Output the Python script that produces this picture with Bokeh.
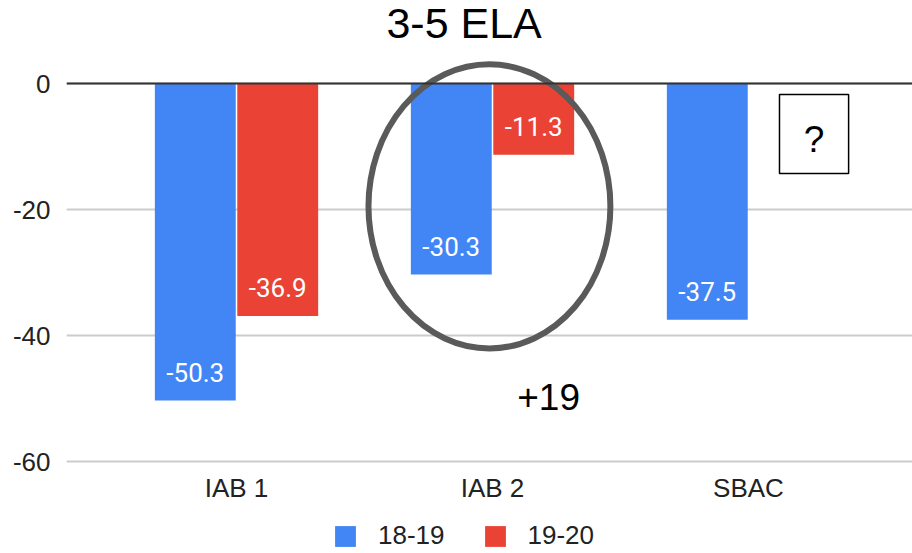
import math
from bokeh.plotting import figure
from bokeh.layouts import column
from bokeh.models import (ColumnDataSource, Range1d, FixedTicker, Span, Label,
                          BoxAnnotation, Legend, LegendItem, PrintfTickFormatter)
from bokeh.core.properties import value
from bokeh.embed import file_html
from bokeh.resources import INLINE

# ---------------- data ----------------
title_text = "3-5 ELA"
categories = ["IAB 1", "IAB 2", "SBAC"]
series_names = ["18-19", "19-20"]
values_1819 = [-50.3, -30.3, -37.5]
values_1920 = [-36.9, -11.3, float("nan")]
y_ticks = [-60, -40, -20, 0]
change_note = "+19"
unknown_note = "?"

# ---------------- style ----------------
BLUE = "#4285F4"
RED = "#EA4335"
FONT = "Liberation Sans"
LABEL_FONT = "Roboto"
COLORS = [BLUE, RED]

W = 912
H_MAIN, H_LEG = 518, 35
LEFT, BOTTOM = 66, H_MAIN - 464
X_START = -0.6641
BAR_W = 0.316
OFFSET = 0.161

p = figure(width=W, height=H_MAIN, output_backend="svg", toolbar_location=None,
           x_range=Range1d(X_START, X_START + (W - LEFT) / 256.0),
           y_range=Range1d(-60.476, 13.175),
           min_border_left=LEFT, min_border_right=0, min_border_top=0,
           min_border_bottom=BOTTOM, outline_line_color=None,
           background_fill_color="white", border_fill_color="white")

xs = list(range(len(categories)))
series = [values_1819, values_1920]
offsets = [-OFFSET, OFFSET]
for vals, off, col in zip(series, offsets, COLORS):
    src = ColumnDataSource(dict(x=[i + off for i in xs], top=vals))
    p.vbar(x="x", top="top", bottom=0, width=BAR_W, source=src,
           fill_color=col, line_color=None)
    lx, ly, lt = [], [], []
    for i, v in zip(xs, vals):
        if not math.isnan(v):
            lx.append(i + off)
            ly.append(v)
            lt.append(f"{v:.1f}")
    lsrc = ColumnDataSource(dict(x=lx, y=ly, t=lt))
    p.text(x="x", y="y", text="t", source=lsrc, text_color="white",
           text_font=value(LABEL_FONT), text_font_size="26px",
           text_align="center", text_baseline="middle", y_offset=-28)

# zero baseline
p.add_layout(Span(location=0, dimension="width", line_color="#333333", line_width=2))

# annotations
p.ellipse(x=[0.988], y=[-19.5], width=[0.945], height=[45.1],
          fill_color=None, line_color="#5a5a5a", line_width=6)
p.add_layout(Label(x=1.219, y=-49.76, text=change_note, text_align="center",
                   text_baseline="middle", text_font=FONT,
                   text_font_size="37px", text_color="black"))
p.add_layout(BoxAnnotation(left=2.121, right=2.391, top=-1.75, bottom=-14.3,
                           fill_color="white", fill_alpha=1.0,
                           line_color="black", line_width=1.5, line_alpha=1.0))
p.add_layout(Label(x=2.256, y=-8.9, text=unknown_note, text_align="center",
                   text_baseline="middle", text_font=FONT,
                   text_font_size="37px", text_color="black"))

# title
p.add_layout(Label(x=0.889, y=9.6, text=title_text, text_align="center",
                   text_baseline="middle", text_font=FONT,
                   text_font_size="43px", text_color="black"))

# axes
p.yaxis.ticker = FixedTicker(ticks=y_ticks)
p.yaxis.formatter = PrintfTickFormatter(format="%d")
p.yaxis.axis_line_color = None
p.yaxis.major_tick_line_color = None
p.yaxis.minor_tick_line_color = None
p.yaxis.major_label_standoff = 10
p.yaxis.major_label_text_font = FONT
p.yaxis.major_label_text_font_size = "26px"
p.yaxis.major_label_text_color = "#222222"

p.xaxis.ticker = FixedTicker(ticks=xs)
p.xaxis.major_label_overrides = {i: c for i, c in zip(xs, categories)}
p.xaxis.axis_line_color = None
p.xaxis.major_tick_line_color = None
p.xaxis.minor_tick_line_color = None
p.xaxis.major_label_standoff = 2
p.xaxis.major_label_text_font = FONT
p.xaxis.major_label_text_font_size = "26px"
p.xaxis.major_label_text_color = "#222222"

p.xgrid.grid_line_color = None
p.ygrid.grid_line_color = "#cccccc"
p.ygrid.grid_line_width = 2

# legend strip below the chart (proxy renderers carry the same series, out of view)
lf = figure(width=W, height=H_LEG, output_backend="svg", toolbar_location=None,
            x_range=Range1d(0, 1), y_range=Range1d(0, 1),
            x_axis_location=None, y_axis_location=None,
            min_border=0, outline_line_color=None,
            background_fill_color="white", border_fill_color="white")
lf.grid.visible = False
items = []
for name, vals, col in zip(series_names, series, COLORS):
    r = lf.vbar(x=xs, top=vals, bottom=0, width=0.1, fill_color=col, line_color=None)
    items.append(LegendItem(label=name, renderers=[r]))
legend = Legend(items=items, location=(266, 2), orientation="horizontal",
                glyph_width=26, glyph_height=26, label_standoff=20, spacing=37,
                padding=0, margin=0, border_line_color=None,
                background_fill_alpha=0, label_text_font=FONT,
                label_text_font_size="26px", label_text_color="#222222")
lf.add_layout(legend)

layout = column(p, lf, spacing=0)
open("out.html", "w").write(file_html(layout, INLINE))
